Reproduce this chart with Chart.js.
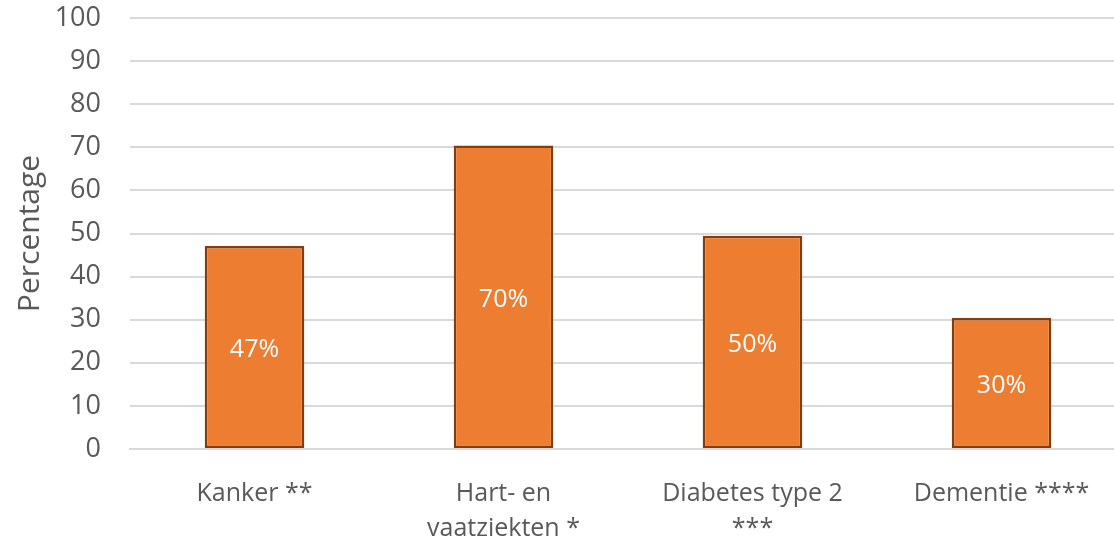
<!DOCTYPE html>
<html>
<head>
<meta charset="utf-8">
<script src="https://cdn.jsdelivr.net/npm/chart.js@4"></script>
<style>
	html, body { margin: 0; padding: 0; background: #fff; overflow: hidden; }
	#box { width: 1126px; height: 541px; }
</style>
</head>
<body>
<div id="box"><canvas id="barChart"></canvas></div>
<script>
const categories = [
	'Kanker **',
	['Hart- en', 'vaatziekten *'],
	['Diabetes type 2', '***'],
	'Dementie ****',
];
const percentages = [47.1, 70.4, 49.5, 30.4];
const yTicks = [0, 10, 20, 30, 40, 50, 60, 70, 80, 90, 100];

const textColor = '#595959';
const fontFamily = '"Open Sans", "Noto Sans", sans-serif';

// white % labels in the middle of each bar
const barLabels = {
	id: 'barLabels',
	afterDatasetsDraw(chart) {
		const ctx = chart.ctx;
		const meta = chart.getDatasetMeta(0);
		ctx.save();
		ctx.fillStyle = '#ffffff';
		ctx.font = '25px ' + fontFamily;
		ctx.textAlign = 'center';
		ctx.textBaseline = 'middle';
		meta.data.forEach((bar, i) => {
			const mid = (bar.y + bar.base) / 2;
			ctx.fillText(Math.round(percentages[i]) + '%', bar.x, mid + 3);
		});
		ctx.restore();
	},
};

new Chart(document.getElementById('barChart').getContext('2d'), {
	type: 'bar',
	data: {
		labels: categories,
		datasets: [
			{
				data: percentages,
				backgroundColor: '#ED7D31',
				borderColor: '#843C0C',
				borderWidth: 2.5,
				borderSkipped: false,
				barPercentage: 0.4,
				categoryPercentage: 1,
			},
		],
	},
	options: {
		responsive: true,
		maintainAspectRatio: false,
		animation: false,
		layout: { padding: { top: 4, left: 0, right: 0, bottom: 0 } },
		plugins: {
			legend: { display: false },
			tooltip: { enabled: false },
		},
		scales: {
			x: {
				afterFit: (axis) => {
					axis.height = 92;
				},
				grid: { display: false },
				border: { display: true, color: '#d9d9d9', width: 2 },
				ticks: {
					color: textColor,
					font: { family: fontFamily, size: 25, lineHeight: 1.4 },
					padding: 19,
					maxRotation: 0,
					autoSkip: false,
				},
			},
			y: {
				min: 0,
				max: 100,
				afterBuildTicks: (axis) => {
					axis.ticks = yTicks.map((v) => ({ value: v }));
				},
				afterFit: (axis) => {
					axis.width = 130;
					// rotated title otherwise pushes the plot down
					axis.paddingTop = 18;
					axis.paddingBottom = 0;
				},
				grid: { color: '#d9d9d9', lineWidth: 2, drawTicks: false },
				border: { display: false },
				ticks: {
					color: textColor,
					font: { family: fontFamily, size: 27 },
					padding: 29,
				},
				title: {
					display: true,
					text: 'Percentage',
					color: textColor,
					font: { family: fontFamily, size: 30 },
					padding: { top: 12, bottom: 0 },
				},
			},
		},
	},
	plugins: [barLabels],
});
</script>
</body>
</html>
